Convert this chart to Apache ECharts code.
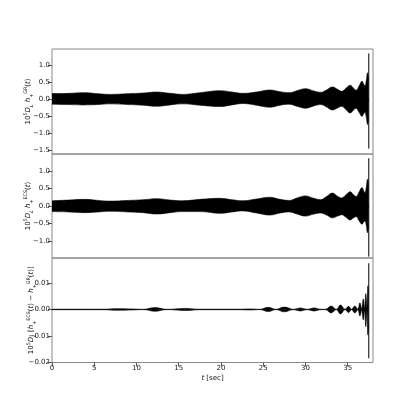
<!DOCTYPE html>
<html>
<head>
<meta charset="utf-8">
<script src="https://cdn.jsdelivr.net/npm/echarts@6/dist/echarts.min.js"></script>
<style>
html, body { margin: 0; padding: 0; background: #fff; }
#chart { width: 415px; height: 415px; }
</style>
</head>
<body>
<div id="chart"></div>
<script>
// envelope of the two waveforms (upper / lower edge of the filled band)
var tBand = [0, 2, 3.7, 5.5, 6.8, 9, 10.8, 12.4, 14, 15.5, 17.5, 19.9, 21.3, 22.6, 24.2, 25.8, 27, 28.1, 29, 30,
    31, 31.8, 32.5, 33.2, 33.8, 34.3, 34.8, 35.3, 35.7, 36, 36.35, 36.7, 36.9, 37.05, 37.2, 37.35, 37.48];
var grUpper = [0.17, 0.18, 0.2, 0.17, 0.15, 0.17, 0.19, 0.22, 0.18, 0.15, 0.2, 0.26, 0.22, 0.18, 0.22, 0.28, 0.23, 0.2, 0.26, 0.32,
    0.25, 0.21, 0.28, 0.37, 0.3, 0.24, 0.33, 0.42, 0.33, 0.27, 0.4, 0.54, 0.45, 0.4, 0.55, 0.79, 0.55];
var grLower = [-0.14, -0.15, -0.16, -0.15, -0.13, -0.15, -0.17, -0.2, -0.16, -0.13, -0.17, -0.21, -0.16, -0.12, -0.17, -0.23, -0.17, -0.14, -0.2, -0.26,
    -0.19, -0.15, -0.22, -0.31, -0.25, -0.2, -0.3, -0.4, -0.31, -0.26, -0.38, -0.5, -0.42, -0.38, -0.52, -0.74, -0.55];
var ecsUpper = [0.15, 0.17, 0.19, 0.16, 0.14, 0.16, 0.18, 0.21, 0.17, 0.15, 0.19, 0.22, 0.18, 0.15, 0.2, 0.25, 0.19, 0.16, 0.23, 0.29,
    0.22, 0.18, 0.27, 0.37, 0.28, 0.23, 0.32, 0.41, 0.32, 0.27, 0.4, 0.53, 0.43, 0.38, 0.53, 0.77, 0.55];
var ecsLower = [-0.16, -0.17, -0.19, -0.17, -0.15, -0.17, -0.19, -0.23, -0.19, -0.16, -0.16, -0.21, -0.17, -0.14, -0.2, -0.26, -0.2, -0.17, -0.23, -0.29,
    -0.23, -0.2, -0.26, -0.34, -0.29, -0.25, -0.32, -0.4, -0.34, -0.3, -0.42, -0.52, -0.46, -0.42, -0.55, -0.77, -0.55];

// difference ECS - GR, lobes between nodes
var tDiff = [0, 6, 7.7, 9.5, 10.8, 12.2, 13.6, 15.7, 17.5, 22, 23.5, 24.6, 25.6, 26.5, 27.5, 28.6, 29.4, 30.2, 31, 31.9,
    32.4, 33.05, 33.65, 34.15, 34.7, 35.1, 35.45, 35.85, 36.2, 36.45, 36.65, 36.85, 37, 37.15, 37.28, 37.4, 37.48];
var diffUpper = [0.0001, 0.0001, 0.0003, 0.0002, 0.00005, 0.0007, 0.00005, 0.0004, 0.0001, 0.0001, 0.0002, 0.00005, 0.0008, 0.00005, 0.0009, 0.00005, 0.0006, 0.00005, 0.0006, 0.00005,
    0.0001, 0.0013, 0.00005, 0.0017, 0.00005, 0.0012, 0.00005, 0.0013, 0.0001, 0.0025, 0.0002, 0.004, 0.0003, 0.006, 0.0005, 0.009, 0.006];
var diffLower = [-0.0001, -0.0001, -0.0003, -0.0002, -0.00005, -0.0007, -0.00005, -0.0004, -0.0001, -0.0001, -0.0002, -0.00005, -0.0008, -0.00005, -0.0009, -0.00005, -0.0006, -0.00005, -0.0006, -0.00005,
    -0.0001, -0.0013, -0.00005, -0.0017, -0.00005, -0.0012, -0.00005, -0.0013, -0.0001, -0.0025, -0.0002, -0.004, -0.0003, -0.0065, -0.0005, -0.0097, -0.006];

// thin merger spike at the end: [min, max]
var spikeT = 37.5;
var spikeGR = [-1.45, 1.36];
var spikeECS = [-1.45, 1.37];
var spikeDiff = [-0.0185, 0.0175];

var xTicks = [0, 5, 10, 15, 20, 25, 30, 35];
var grTicks = [-1.5, -1.0, -0.5, 0.0, 0.5, 1.0];
var ecsTicks = [-1.0, -0.5, 0.0, 0.5, 1.0];
var diffTicks = [-0.02, -0.01, 0.0, 0.01];

var FONT = 'DejaVu Sans';
var rich = {
    n: { fontFamily: FONT, fontSize: 7, lineHeight: 11, color: '#111' },
    it: { fontFamily: FONT, fontSize: 7, lineHeight: 11, fontStyle: 'italic', color: '#111' },
    sup: { fontFamily: FONT, fontSize: 4.8, lineHeight: 6, verticalAlign: 'top', color: '#111' },
    sub: { fontFamily: FONT, fontSize: 4.8, lineHeight: 6, verticalAlign: 'bottom', fontStyle: 'italic', color: '#111' },
    subn: { fontFamily: FONT, fontSize: 4.8, lineHeight: 6, verticalAlign: 'bottom', color: '#111' }
};

function minus(s) { return s.replace('-', '\u2212'); }

// one half of the band; the fill runs a little past zero so both halves overlap
function band(idx, t, v, origin) {
    return {
        type: 'line', xAxisIndex: idx, yAxisIndex: idx,
        data: t.map(function (x, i) { return [x, v[i]]; }),
        smooth: 0.4, symbol: 'none', silent: true,
        lineStyle: { color: '#000', width: 0.6 },
        areaStyle: { color: '#000', opacity: 1, origin: origin }
    };
}

function spike(idx, s) {
    return {
        type: 'line', xAxisIndex: idx, yAxisIndex: idx,
        data: [[spikeT, s[0]], [spikeT, s[1]]], symbol: 'none', silent: true,
        lineStyle: { color: '#000', width: 1 }
    };
}

function yAxis(idx, min, max, ticks, digits, name, gap) {
    return {
        gridIndex: idx, type: 'value', min: min, max: max,
        axisLine: { show: false },
        splitLine: { show: false },
        axisTick: { show: true, length: 4, customValues: ticks, lineStyle: { color: '#555', width: 1 } },
        axisLabel: {
            customValues: ticks, fontSize: 7, fontFamily: FONT, color: '#222', margin: 2,
            formatter: function (v) { return minus(v.toFixed(digits)); }
        },
        name: name, nameLocation: 'middle', nameGap: gap, nameMoveOverlap: false,
        nameTextStyle: { rich: rich, fontFamily: FONT, fontSize: 7 }
    };
}

function xAxis(idx, labels) {
    var ax = {
        gridIndex: idx, type: 'value', min: 0, max: 38,
        axisLine: { show: false, onZero: false },
        splitLine: { show: false },
        axisTick: { show: labels, length: 4, customValues: xTicks, lineStyle: { color: '#555', width: 1 } },
        axisLabel: { show: labels, customValues: xTicks, fontSize: 7, fontFamily: FONT, color: '#222', margin: 2 }
    };
    if (labels) {
        ax.name = '{it|t} {n|[sec]}';
        ax.nameLocation = 'middle';
        ax.nameGap = 10;
        ax.nameMoveOverlap = false;
        ax.nameTextStyle = { rich: rich, fontFamily: FONT, fontSize: 7 };
    }
    return ax;
}

var frame = { left: 52, right: 42, show: true, borderColor: '#888', borderWidth: 1, backgroundColor: 'transparent' };

var option = {
    animation: false,
    backgroundColor: '#fff',
    grid: [
        Object.assign({ top: 49, height: 105 }, frame),
        Object.assign({ top: 154, height: 104 }, frame),
        Object.assign({ top: 258, height: 104.5 }, frame)
    ],
    xAxis: [xAxis(0, false), xAxis(1, false), xAxis(2, true)],
    yAxis: [
        yAxis(0, -1.61, 1.49, grTicks, 1,
            '{n|10}{sup|5}{it|D}{sub|L} {it|h}{subn|+}{sup|GR}{n|(}{it|t}{n|)}', 18),
        yAxis(1, -1.49, 1.49, ecsTicks, 1,
            '{n|10}{sup|5}{it|D}{sub|L} {it|h}{subn|+}{sup|ECS}{n|(}{it|t}{n|)}', 18),
        yAxis(2, -0.0201, 0.0195, diffTicks, 2,
            '{n|10}{sup|5}{it|D}{sub|L} {n|[}{it|h}{subn|+}{sup|ECS}{n|(}{it|t}{n|) \u2212 }{it|h}{subn|+}{sup|GR}{n|(}{it|t}{n|)]}', 15)
    ],
    series: [
        band(0, tBand, grUpper, -0.06), band(0, tBand, grLower, 0.06), spike(0, spikeGR),
        band(1, tBand, ecsUpper, -0.06), band(1, tBand, ecsLower, 0.06), spike(1, spikeECS),
        band(2, tDiff, diffUpper, -0.0001), band(2, tDiff, diffLower, 0.0001), spike(2, spikeDiff)
    ]
};

var myChart = echarts.init(document.getElementById('chart'));
myChart.setOption(option);
</script>
</body>
</html>
